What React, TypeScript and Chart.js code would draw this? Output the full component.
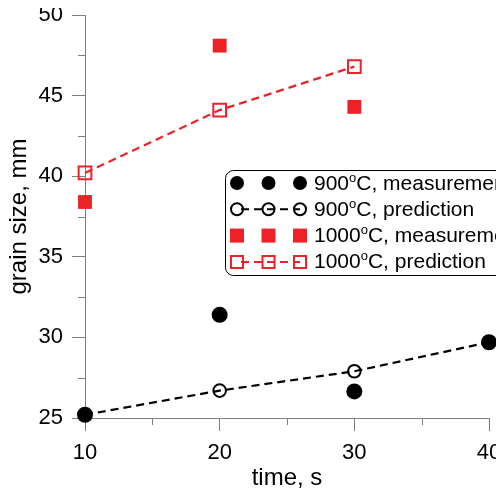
import React, { useEffect, useRef } from "react";
import { Chart, registerables } from "chart.js";

Chart.register(...registerables);

const times = [10, 20, 30, 40];
const times1000 = [10, 20, 30];
const meas900 = [25.2, 31.4, 26.65, 29.7];
const pred900 = [25.2, 26.7, 27.9, 29.7];
const meas1000 = [38.4, 48.1, 44.3];
const pred1000 = [40.2, 44.1, 46.8];
const xTicks = [10, 20, 30, 40];
const yTicks = [25, 30, 35, 40, 45, 50];
const xMinor = [15, 25, 35];
const yMinor = [27.5, 32.5, 37.5, 42.5, 47.5];
const legendTemps = ["900", "900", "1000", "1000"];
const legendRest = ["C, measurement", "C, prediction", "C, measurement", "C, prediction"];

const RED = "#ec2227";
const AXIS = "#7f7f7f";
const FONT = "'Liberation Sans', Arial, sans-serif";

const minorTicks = {
  id: "minorTicks",
  afterDraw(chart: any) {
    const ctx = chart.ctx;
    const xs = chart.scales.x;
    const ys = chart.scales.y;
    ctx.save();
    ctx.strokeStyle = AXIS;
    ctx.lineWidth = 1;
    ctx.beginPath();
    for (const v of xMinor) {
      const px = Math.round(xs.getPixelForValue(v)) + 0.5;
      ctx.moveTo(px, ys.bottom);
      ctx.lineTo(px, ys.bottom + 7);
    }
    for (const v of yMinor) {
      const py = Math.round(ys.getPixelForValue(v)) + 0.5;
      ctx.moveTo(xs.left - 7, py);
      ctx.lineTo(xs.left, py);
    }
    ctx.stroke();
    ctx.restore();
  },
};

const customLegend = {
  id: "customLegend",
  afterDraw(chart: any) {
    const ctx = chart.ctx;
    ctx.save();
    const bx = 225.5, by = 170.5, bw = 320, bh = 105, r = 8;
    ctx.beginPath();
    ctx.moveTo(bx + r, by);
    ctx.lineTo(bx + bw - r, by);
    ctx.arcTo(bx + bw, by, bx + bw, by + r, r);
    ctx.lineTo(bx + bw, by + bh - r);
    ctx.arcTo(bx + bw, by + bh, bx + bw - r, by + bh, r);
    ctx.lineTo(bx + r, by + bh);
    ctx.arcTo(bx, by + bh, bx, by + bh - r, r);
    ctx.lineTo(bx, by + r);
    ctx.arcTo(bx, by, bx + r, by, r);
    ctx.closePath();
    ctx.fillStyle = "#ffffff";
    ctx.fill();
    ctx.strokeStyle = "#000000";
    ctx.lineWidth = 1;
    ctx.stroke();

    const mx = [237, 268.5, 300];
    for (let i = 0; i < 4; i++) {
      const y = 183 + i * 26.3;
      const color = i < 2 ? "#000000" : RED;
      const isPred = i % 2 === 1;
      if (isPred) {
        ctx.save();
        ctx.strokeStyle = color;
        ctx.lineWidth = 2;
        ctx.setLineDash([8, 5]);
        ctx.lineDashOffset = -4;
        ctx.beginPath();
        ctx.moveTo(mx[0], y);
        ctx.lineTo(mx[2], y);
        ctx.stroke();
        ctx.restore();
      }
      for (const x of mx) {
        ctx.beginPath();
        if (i < 2) {
          ctx.arc(x, y, isPred ? 6 : 7, 0, Math.PI * 2);
        } else {
          const s = isPred ? 6 : 7;
          ctx.rect(x - s, y - s, 2 * s, 2 * s);
        }
        if (isPred) {
          ctx.strokeStyle = color;
          ctx.lineWidth = 2;
          ctx.stroke();
        } else {
          ctx.fillStyle = color;
          ctx.fill();
        }
      }
      ctx.fillStyle = "#000000";
      ctx.textBaseline = "alphabetic";
      ctx.textAlign = "left";
      let tx = 314;
      const base = y + 6.5;
      ctx.font = `21px ${FONT}`;
      ctx.fillText(legendTemps[i], tx, base);
      tx += ctx.measureText(legendTemps[i]).width;
      ctx.font = `13px ${FONT}`;
      ctx.fillText("o", tx, base - 8);
      tx += ctx.measureText("o").width;
      ctx.font = `21px ${FONT}`;
      ctx.fillText(legendRest[i], tx, base);
    }
    ctx.restore();
  },
};

export default function App() {
  const ref = useRef<HTMLCanvasElement | null>(null);
  useEffect(() => {
    if (!ref.current) return;
    const chart = new Chart(ref.current, {
      type: "scatter",
      data: {
        datasets: [
          {
            label: "900oC, measurement",
            data: times.map((t, i) => ({ x: t, y: meas900[i] })),
            pointStyle: "circle",
            pointRadius: 8,
            pointBackgroundColor: "#000",
            pointBorderColor: "#000",
            pointBorderWidth: 0,
            showLine: false,
            clip: false,
          },
          {
            label: "900oC, prediction",
            data: times.map((t, i) => ({ x: t, y: pred900[i] })),
            pointStyle: "circle",
            pointRadius: 6.3,
            pointBackgroundColor: "rgba(0,0,0,0)",
            pointBorderColor: "#000",
            pointBorderWidth: 2,
            showLine: true,
            borderColor: "#000",
            borderWidth: 2.2,
            borderDash: [8, 5],
            clip: false,
          },
          {
            label: "1000oC, measurement",
            data: times1000.map((t, i) => ({ x: t, y: meas1000[i] })),
            pointStyle: "rect",
            pointRadius: 9.8,
            pointBackgroundColor: RED,
            pointBorderColor: RED,
            pointBorderWidth: 0,
            showLine: false,
            clip: false,
          },
          {
            label: "1000oC, prediction",
            data: times1000.map((t, i) => ({ x: t, y: pred1000[i] })),
            pointStyle: "rect",
            pointRadius: 9,
            pointBackgroundColor: "rgba(0,0,0,0)",
            pointBorderColor: RED,
            pointBorderWidth: 2,
            showLine: true,
            borderColor: RED,
            borderWidth: 2.2,
            borderDash: [8, 5],
            clip: false,
          },
        ],
      },
      options: {
        responsive: false,
        animation: false,
        layout: { padding: { top: 15, right: 15, left: 0, bottom: 0 } },
        plugins: { legend: { display: false }, tooltip: { enabled: false } },
        scales: {
          x: {
            type: "linear",
            min: 10,
            max: 40,
            afterBuildTicks: (s: any) => {
              s.ticks = xTicks.map((v) => ({ value: v }));
            },
            ticks: { color: "#000", font: { size: 22, family: FONT }, padding: 9 },
            grid: { drawOnChartArea: false, tickLength: 13, color: AXIS, lineWidth: 1 },
            border: { color: AXIS, width: 1 },
            title: {
              display: true,
              text: "time, s",
              color: "#000",
              font: { size: 24, family: FONT },
              padding: { top: 0, bottom: -2 },
            },
            afterFit: (s: any) => {
              s.height = 73;
              s.paddingLeft = 0;
              s.paddingRight = 0;
              s.paddingTop = 0;
              s.paddingBottom = 0;
            },
          },
          y: {
            type: "linear",
            min: 25,
            max: 50,
            afterBuildTicks: (s: any) => {
              s.ticks = yTicks.map((v) => ({ value: v }));
            },
            ticks: { color: "#000", font: { size: 22, family: FONT }, padding: 9 },
            grid: { drawOnChartArea: false, tickLength: 13, color: AXIS, lineWidth: 1 },
            border: { color: AXIS, width: 1 },
            title: {
              display: true,
              text: "grain size, mm",
              color: "#000",
              font: { size: 24, family: FONT },
              padding: { top: 5, bottom: 0 },
            },
            afterFit: (s: any) => {
              s.width = 85;
              s.paddingLeft = 0;
              s.paddingRight = 0;
              s.paddingTop = 0;
              s.paddingBottom = 0;
            },
          },
        },
      },
      plugins: [minorTicks, customLegend],
    } as any);
    return () => chart.destroy();
  }, []);
  return (
    <div style={{ position: "relative", width: 504, height: 491, margin: "-8px 0 0 -8px" }}>
      <canvas ref={ref} width={504} height={491} style={{ display: "block" }} />
    </div>
  );
}
